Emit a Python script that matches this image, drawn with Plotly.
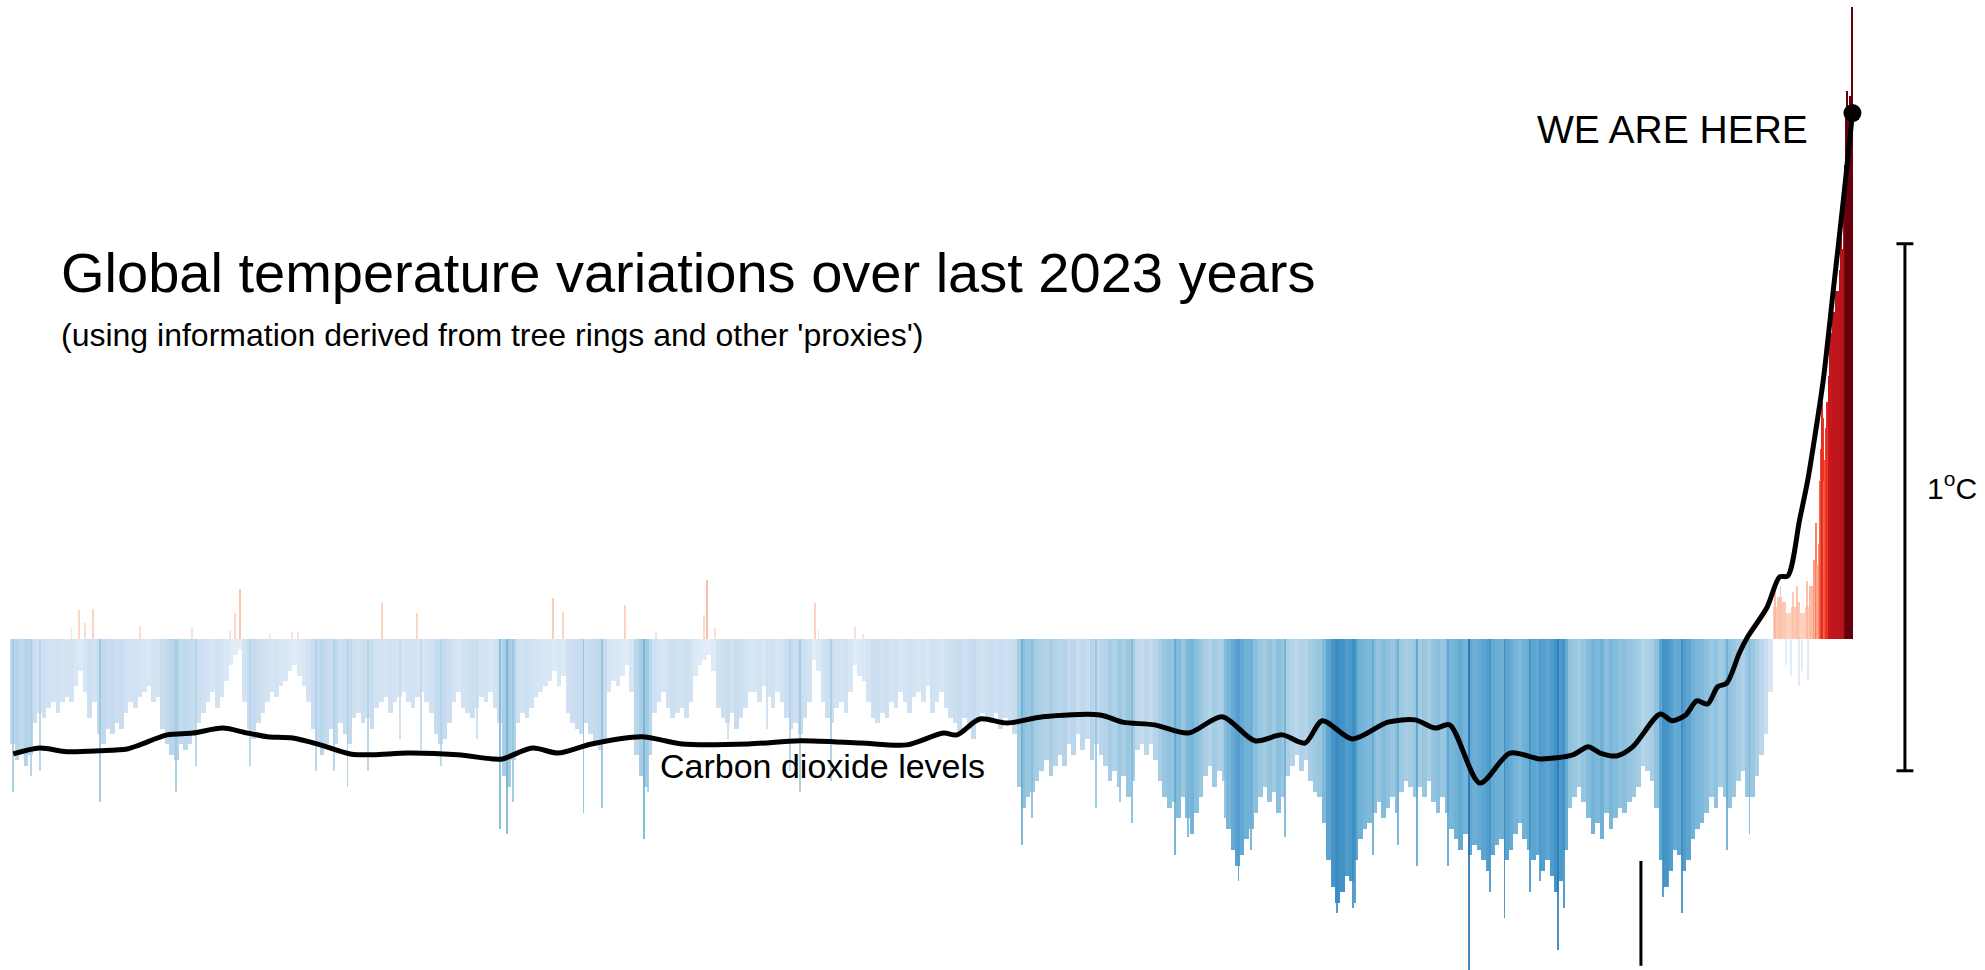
import plotly.graph_objects as go

# ---------------- data ----------------
# 5-year bins (start years 1..1976), temperature anomaly (deg C)
bin_start = list(range(1, 1977, 5))
bin_values = [
    -0.20, -0.23, -0.21, -0.24, -0.22, -0.16, -0.14, -0.15, -0.13, -0.12,
    -0.14, -0.12, -0.11, -0.12, -0.09, -0.06, -0.10, -0.15, -0.12, -0.18,
    -0.20, -0.17, -0.18, -0.16, -0.17, -0.14, -0.12, -0.13, -0.11, -0.10,
    -0.09, -0.12, -0.11, -0.17, -0.20, -0.22, -0.23, -0.20, -0.21, -0.20,
    -0.18, -0.16, -0.14, -0.12, -0.10, -0.13, -0.11, -0.08, -0.05, -0.03,
    -0.02, -0.12, -0.17, -0.19, -0.16, -0.14, -0.12, -0.10, -0.11, -0.09,
    -0.08, -0.06, -0.05, -0.07, -0.09, -0.12, -0.17, -0.20, -0.22, -0.20,
    -0.17, -0.20, -0.16, -0.18, -0.20, -0.15, -0.14, -0.16, -0.15, -0.17,
    -0.13, -0.12, -0.11, -0.14, -0.12, -0.11, -0.10, -0.12, -0.13, -0.11,
    -0.10, -0.12, -0.14, -0.18, -0.20, -0.19, -0.16, -0.12, -0.10, -0.13,
    -0.14, -0.15, -0.13, -0.11, -0.12, -0.10, -0.13, -0.16, -0.26, -0.28,
    -0.23, -0.16, -0.14, -0.15, -0.13, -0.11, -0.10, -0.09, -0.08, -0.06,
    -0.09, -0.07, -0.14, -0.16, -0.17, -0.18, -0.16, -0.18, -0.20, -0.21,
    -0.19, -0.10, -0.08, -0.09, -0.07, -0.05, -0.10, -0.22, -0.26, -0.28,
    -0.22, -0.14, -0.12, -0.10, -0.13, -0.15, -0.14, -0.13, -0.15, -0.12,
    -0.07, -0.05, -0.04, -0.03, -0.06, -0.13, -0.15, -0.16, -0.14, -0.17,
    -0.15, -0.13, -0.10, -0.10, -0.12, -0.09, -0.11, -0.13, -0.10, -0.12,
    -0.15, -0.17, -0.16, -0.18, -0.15, -0.12, -0.04, -0.06, -0.12, -0.15,
    -0.16, -0.13, -0.12, -0.14, -0.10, -0.05, -0.07, -0.08, -0.12, -0.15,
    -0.16, -0.14, -0.15, -0.12, -0.13, -0.10, -0.12, -0.14, -0.11, -0.10,
    -0.12, -0.09, -0.14, -0.12, -0.10, -0.13, -0.15, -0.16, -0.18, -0.15,
    -0.17, -0.19, -0.16, -0.14, -0.15, -0.16, -0.14, -0.17, -0.15, -0.16,
    -0.18, -0.28, -0.32, -0.30, -0.29, -0.27, -0.25, -0.23, -0.26, -0.24,
    -0.22, -0.24, -0.20, -0.22, -0.18, -0.21, -0.19, -0.23, -0.20, -0.22,
    -0.24, -0.27, -0.25, -0.28, -0.26, -0.30, -0.27, -0.21, -0.20, -0.22,
    -0.20, -0.23, -0.27, -0.30, -0.32, -0.31, -0.34, -0.30, -0.34, -0.37,
    -0.33, -0.30, -0.26, -0.24, -0.28, -0.25, -0.27, -0.36, -0.40, -0.43,
    -0.41, -0.38, -0.36, -0.33, -0.30, -0.28, -0.31, -0.29, -0.33, -0.30,
    -0.26, -0.24, -0.22, -0.25, -0.23, -0.27, -0.29, -0.30, -0.35, -0.42,
    -0.47, -0.50, -0.48, -0.45, -0.46, -0.42, -0.38, -0.36, -0.35, -0.33,
    -0.31, -0.34, -0.32, -0.30, -0.33, -0.29, -0.27, -0.28, -0.30, -0.28,
    -0.30, -0.27, -0.31, -0.33, -0.30, -0.33, -0.36, -0.38, -0.40, -0.37,
    -0.41, -0.39, -0.40, -0.42, -0.44, -0.41, -0.39, -0.38, -0.42, -0.40,
    -0.37, -0.35, -0.38, -0.40, -0.42, -0.41, -0.44, -0.42, -0.45, -0.48,
    -0.46, -0.40, -0.32, -0.30, -0.28, -0.31, -0.34, -0.37, -0.35, -0.38,
    -0.33, -0.36, -0.34, -0.32, -0.33, -0.31, -0.30, -0.28, -0.24, -0.25,
    -0.27, -0.32, -0.42, -0.47, -0.44, -0.40, -0.41, -0.44, -0.42, -0.38,
    -0.36, -0.35, -0.33, -0.30, -0.32, -0.28, -0.30, -0.32, -0.30, -0.27,
    -0.25, -0.30, -0.30, -0.26, -0.22, -0.18, -0.10, 0.06, 0.08, 0.07,
    0.05, 0.06, 0.07, 0.05, 0.06, 0.10,
]

# single years since 1981
modern_years = list(range(1981, 2024))
modern_values = [
    0.15, 0.12, 0.22, 0.14, 0.13, 0.18, 0.30, 0.36, 0.30, 0.45,
    0.42, 0.30, 0.34, 0.40, 0.45, 0.40, 0.50, 0.60, 0.52, 0.52,
    0.58, 0.62, 0.62, 0.60, 0.66, 0.64, 0.66, 0.60, 0.70, 0.76,
    0.68, 0.70, 0.74, 0.80, 0.90, 1.00, 1.04, 0.94, 1.00, 1.03,
    0.95, 0.98, 1.20,
]

# individual years that stick out of the dense band
spike_years = [
    4, 24, 33, 68, 76, 83, 92, 99, 143, 183, 200, 205, 242, 247, 253, 264, 286,
    310, 317, 336, 356, 371, 393, 409, 429, 447, 452, 474, 513, 538, 546, 553,
    597, 608, 630, 650, 676, 696, 701, 710, 762, 766, 774, 789, 831, 857, 868,
    884, 888, 902, 928, 937, 1111, 1122, 1193, 1219, 1232, 1279, 1294, 1334,
    1349, 1363, 1400, 1457, 1475, 1477, 1497, 1524, 1545, 1579, 1602, 1625,
    1641, 1669, 1680, 1700, 1706, 1815, 1821, 1836, 1885, 1910, 1938, 1944,
    1950, 1956, 1958, 1962, 1964, 1968, 1973, 1974,
]
spike_values = [
    -0.29, -0.26, -0.25, 0.02, 0.055, 0.03, 0.057, -0.31, 0.025, -0.29, 0.02,
    -0.24, 0.015, 0.05, 0.095, -0.24, 0.01, 0.013, 0.013, -0.25, -0.25, -0.28,
    -0.25, 0.068, -0.19, 0.049, -0.21, -0.24, -0.19, -0.36, -0.37, -0.31,
    0.077, 0.052, -0.33, -0.32, 0.065, -0.38, -0.29, 0.015, 0.046, 0.112,
    0.02, -0.19, -0.17, -0.25, -0.29, 0.068, 0.017, -0.27, 0.023, 0.01,
    -0.39, -0.34, -0.32, -0.31, -0.35, -0.41, -0.375, -0.34, -0.46, -0.40,
    -0.375, -0.52, -0.51, -0.50, -0.41, -0.39, -0.43, -0.43, -0.63, -0.48,
    -0.53, -0.48, -0.46, -0.59, -0.51, -0.49, -0.47, -0.52, -0.40, -0.37,
    0.11, 0.10, -0.05, -0.07, 0.09, 0.10, -0.09, -0.06, 0.11, -0.08,
]

# carbon dioxide curve (ppm)
co2_year = [
    4, 33, 63, 99, 129, 143, 173, 201, 234, 261, 283, 311, 341, 374, 399, 437,
    492, 530, 541, 574, 602, 639, 694, 738, 811, 868, 934, 985, 1025, 1040,
    1065, 1095, 1134, 1197, 1222, 1257, 1294, 1331, 1367, 1397, 1422, 1441,
    1474, 1513, 1543, 1565, 1581, 1614, 1647, 1680, 1716, 1733, 1746, 1765,
    1782, 1812, 1825, 1840, 1852, 1864, 1875, 1885, 1899, 1908, 1929, 1943,
    1952, 1965, 1974, 1984, 1991, 2002, 2013, 2020, 2023,
]
co2_ppm = [
    278.8, 280.1, 279.3, 279.5, 279.9, 280.8, 283.0, 283.4, 284.5, 283.4,
    282.6, 282.3, 280.8, 278.8, 278.6, 279.0, 278.6, 277.7, 277.7, 280.1,
    279.0, 281.0, 282.6, 281.0, 281.0, 281.7, 281.2, 280.8, 283.4, 283.0,
    286.5, 285.6, 287.0, 287.4, 285.8, 285.2, 283.4, 287.0, 281.7, 283.0,
    281.2, 286.1, 282.1, 285.8, 286.3, 284.5, 285.2, 272.4, 279.0, 277.7,
    278.6, 280.4, 279.0, 278.4, 280.4, 287.6, 286.1, 287.4, 290.5, 289.8,
    293.6, 294.4, 301.1, 304.6, 311.0, 317.8, 318.0, 330.4, 339.2, 351.7,
    361.2, 381.0, 400.8, 414.1, 420.0,
]

# ---------------- styling ----------------
FONT = "Liberation Sans, Arial, Helvetica, sans-serif"
CMIN, CMAX = -0.65, 1.2


def pos(v):
    return (v - CMIN) / (CMAX - CMIN)


colorscale = [
    [0.0, "#2171b5"],
    [pos(-0.56), "#3182bd"],
    [pos(-0.48), "#4292c6"],
    [pos(-0.39), "#6baed6"],
    [pos(-0.29), "#9ecae1"],
    [pos(-0.19), "#c6dbef"],
    [pos(-0.08), "#dae8f5"],
    [pos(0.0), "#e6f0f9"],
    [pos(0.0), "#fee0d2"],
    [pos(0.08), "#fcc5b0"],
    [pos(0.17), "#fc9272"],
    [pos(0.28), "#fb6a4a"],
    [pos(0.40), "#ef3b2c"],
    [pos(0.50), "#cb181d"],
    [pos(0.78), "#b3141b"],
    [pos(0.86), "#a50f15"],
    [pos(0.92), "#67000d"],
    [1.0, "#67000d"],
]

fig = go.Figure()

fig.add_trace(go.Bar(
    x=[s + 2 for s in bin_start], y=bin_values, width=5.05,
    marker=dict(color=bin_values, colorscale=colorscale, cmin=CMIN, cmax=CMAX,
                line=dict(width=0)),
    hoverinfo="skip", showlegend=False,
))
fig.add_trace(go.Bar(
    x=modern_years, y=modern_values, width=1.05,
    marker=dict(color=modern_values, colorscale=colorscale, cmin=CMIN, cmax=CMAX,
                line=dict(width=0)),
    hoverinfo="skip", showlegend=False,
))
fig.add_trace(go.Bar(
    x=spike_years, y=spike_values, width=1.0,
    marker=dict(color=spike_values, colorscale=colorscale, cmin=CMIN, cmax=CMAX,
                line=dict(width=0), opacity=0.85),
    hoverinfo="skip", showlegend=False,
))
fig.add_trace(go.Scatter(
    x=co2_year, y=co2_ppm, yaxis="y2", mode="lines",
    line=dict(color="black", width=5, shape="spline", smoothing=0.8),
    hoverinfo="skip", showlegend=False,
))
fig.add_trace(go.Scatter(
    x=[co2_year[-1]], y=[co2_ppm[-1]], yaxis="y2", mode="markers",
    marker=dict(color="black", size=18),
    hoverinfo="skip", showlegend=False,
))

# scale bar (1 degree C)
SB_X = 2080.6
shapes = [
    dict(type="line", xref="x", yref="y", x0=SB_X, x1=SB_X, y0=-0.25, y1=0.75,
         line=dict(color="black", width=3)),
    dict(type="line", xref="x", yref="y", x0=SB_X - 9.3, x1=SB_X + 9.3, y0=0.75, y1=0.75,
         line=dict(color="black", width=3)),
    dict(type="line", xref="x", yref="y", x0=SB_X - 9.3, x1=SB_X + 9.3, y0=-0.25, y1=-0.25,
         line=dict(color="black", width=3)),
    dict(type="line", xref="x", yref="y", x0=1790.8, x1=1790.8, y0=-0.421, y1=-0.62,
         line=dict(color="black", width=3)),
]

annotations = [
    dict(text="Global temperature variations over last 2023 years", xref="paper", yref="paper",
         x=0.0297, y=0.7192, xanchor="left", yanchor="middle", showarrow=False,
         font=dict(family=FONT, size=56, color="black")),
    dict(text="(using information derived from tree rings and other 'proxies')", xref="paper",
         yref="paper", x=0.0297, y=0.6546, xanchor="left", yanchor="middle", showarrow=False,
         font=dict(family=FONT, size=32, color="black")),
    dict(text="WE ARE HERE", xref="paper", yref="paper", x=0.9118, y=0.867,
         xanchor="right", yanchor="middle", showarrow=False,
         font=dict(family=FONT, size=39, color="black")),
    dict(text="1<sup>o</sup>C", xref="paper", yref="paper", x=0.9698, y=0.4985,
         xanchor="left", yanchor="middle", showarrow=False,
         font=dict(family=FONT, size=30, color="black")),
    dict(text="Carbon dioxide levels", xref="paper", yref="paper", x=0.3315, y=0.2103,
         xanchor="left", yanchor="middle", showarrow=False,
         font=dict(family=FONT, size=34, color="black")),
]

fig.update_layout(
    width=1985, height=970, autosize=False,
    margin=dict(l=0, r=0, t=0, b=0, pad=0),
    paper_bgcolor="white", plot_bgcolor="white",
    barmode="overlay", bargap=0,
    xaxis=dict(range=[-10.5, 2168.5], visible=False, fixedrange=True),
    yaxis=dict(range=[-0.628, 1.2125], visible=False, fixedrange=True),
    yaxis2=dict(range=[231.2, 444.9], overlaying="y", visible=False, fixedrange=True),
    shapes=shapes, annotations=annotations,
    showlegend=False,
)

fig.write_html("out.html", config={"displayModeBar": False},
               post_script="document.body.style.margin='0';document.body.style.overflow='hidden';")
